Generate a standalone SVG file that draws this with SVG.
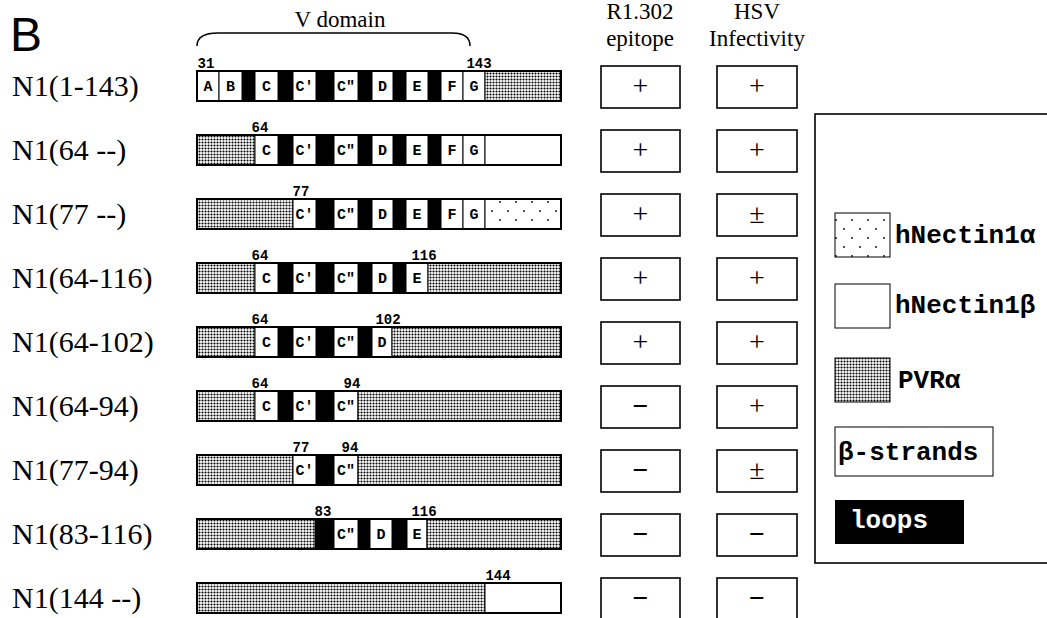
<svg xmlns="http://www.w3.org/2000/svg" width="1047" height="618" viewBox="0 0 1047 618">
<style>
.pvr{fill:url(#pvr);stroke:#000;stroke-width:1}
.wh{fill:#fff;stroke:#000;stroke-width:1}
.al{fill:url(#alpha);stroke:#000;stroke-width:1}
.lp{fill:#000}
.out{fill:none;stroke:#000;stroke-width:2}
.seg{font-family:"Liberation Mono","DejaVu Sans Mono",monospace;font-weight:bold;font-size:15px;text-anchor:middle}
.num{font-family:"Liberation Mono","DejaVu Sans Mono",monospace;font-weight:bold;font-size:14px;text-anchor:middle}
.lbl{font-family:"Liberation Serif",serif;font-size:30px}
.hdr{font-family:"Liberation Serif",serif;font-size:23px;text-anchor:middle}
.box{fill:#fff;stroke:#000;stroke-width:1.6}
.res{font-family:"Liberation Serif",serif;font-size:28px;text-anchor:middle}
.neg{font-weight:bold}
.leg{font-family:"Liberation Mono","DejaVu Sans Mono",monospace;font-weight:bold;font-size:26px}
</style>
<defs>
<pattern id="pvr" width="3" height="3" patternUnits="userSpaceOnUse">
<rect width="3" height="3" fill="#fff"/>
<circle cx="1.5" cy="1.5" r="1.05" fill="#000"/>
</pattern>
<pattern id="alpha" width="16" height="18" patternUnits="userSpaceOnUse">
<rect width="16" height="18" fill="#fff"/>
<circle cx="4" cy="4" r="0.9" fill="#000"/>
<circle cx="12" cy="13" r="0.9" fill="#000"/>
</pattern>
</defs>
<rect width="1047" height="618" fill="#fff"/>

<g id="title">
<text x="10" y="51" font-family="Liberation Sans, sans-serif" font-size="48">B</text>
<text class="hdr" x="340" y="27">V domain</text>
<path d="M197,46 C197,37 205,33 218,33 L452,33 C464,33 470,38 470,46" fill="none" stroke="#000" stroke-width="1.5"/>
<text class="hdr" x="640" y="19">R1.302</text>
<text class="hdr" x="640" y="46">epitope</text>
<text class="hdr" x="757" y="19">HSV</text>
<text class="hdr" x="757" y="46">Infectivity</text>
</g>

<g id="connectors"></g>

<!-- Row 1 -->
<g id="row-N1-1-143">
<text class="lbl" x="12" y="96">N1(1-143)</text>
<rect class="wh" x="197" y="71" width="22" height="30"/>
<rect class="wh" x="219" y="71" width="23" height="30"/>
<rect class="lp" x="242" y="71" width="13" height="30"/>
<rect class="wh" x="255" y="71" width="23" height="30"/>
<rect class="lp" x="278" y="71" width="15" height="30"/>
<rect class="wh" x="293" y="71" width="23" height="30"/>
<rect class="lp" x="316" y="71" width="18" height="30"/>
<rect class="wh" x="334" y="71" width="24" height="30"/>
<rect class="lp" x="358" y="71" width="14" height="30"/>
<rect class="wh" x="372" y="71" width="21" height="30"/>
<rect class="lp" x="393" y="71" width="13" height="30"/>
<rect class="wh" x="406" y="71" width="22" height="30"/>
<rect class="lp" x="428" y="71" width="13" height="30"/>
<rect class="wh" x="441" y="71" width="22" height="30"/>
<rect class="wh" x="463" y="71" width="22" height="30"/>
<rect class="pvr" x="485" y="71" width="76" height="30"/>
<rect class="out" x="197" y="71" width="364" height="30"/>
<text class="seg" x="208" y="91">A</text>
<text class="seg" x="230.5" y="91">B</text>
<text class="seg" x="266.5" y="91">C</text>
<text class="seg" x="304.5" y="91">C′</text>
<text class="seg" x="346" y="91">C″</text>
<text class="seg" x="382.5" y="91">D</text>
<text class="seg" x="417" y="91">E</text>
<text class="seg" x="452" y="91">F</text>
<text class="seg" x="474" y="91">G</text>
<text class="num" x="206" y="68">31</text>
<text class="num" x="479" y="68">143</text>
<rect class="box" x="601" y="66" width="79" height="42"/>
<text class="res" x="640.5" y="95">+</text>
<rect class="box" x="717" y="66" width="80" height="42"/>
<text class="res" x="757" y="95">+</text>
</g>

<!-- Row 2 -->
<g id="row-N1-64">
<text class="lbl" x="12" y="160">N1(64 --)</text>
<rect class="pvr" x="197" y="135" width="58" height="30"/>
<rect class="wh" x="255" y="135" width="23" height="30"/>
<rect class="lp" x="278" y="135" width="15" height="30"/>
<rect class="wh" x="293" y="135" width="23" height="30"/>
<rect class="lp" x="316" y="135" width="18" height="30"/>
<rect class="wh" x="334" y="135" width="24" height="30"/>
<rect class="lp" x="358" y="135" width="14" height="30"/>
<rect class="wh" x="372" y="135" width="21" height="30"/>
<rect class="lp" x="393" y="135" width="13" height="30"/>
<rect class="wh" x="406" y="135" width="22" height="30"/>
<rect class="lp" x="428" y="135" width="13" height="30"/>
<rect class="wh" x="441" y="135" width="22" height="30"/>
<rect class="wh" x="463" y="135" width="22" height="30"/>
<rect class="wh" x="485" y="135" width="76" height="30"/>
<rect class="out" x="197" y="135" width="364" height="30"/>
<text class="seg" x="266.5" y="155">C</text>
<text class="seg" x="304.5" y="155">C′</text>
<text class="seg" x="346" y="155">C″</text>
<text class="seg" x="382.5" y="155">D</text>
<text class="seg" x="417" y="155">E</text>
<text class="seg" x="452" y="155">F</text>
<text class="seg" x="474" y="155">G</text>
<text class="num" x="260" y="132">64</text>
<rect class="box" x="601" y="130" width="79" height="42"/>
<text class="res" x="640.5" y="159">+</text>
<rect class="box" x="717" y="130" width="80" height="42"/>
<text class="res" x="757" y="159">+</text>
</g>

<!-- Row 3 -->
<g id="row-N1-77">
<text class="lbl" x="12" y="224">N1(77 --)</text>
<rect class="pvr" x="197" y="199" width="96" height="30"/>
<rect class="wh" x="293" y="199" width="23" height="30"/>
<rect class="lp" x="316" y="199" width="18" height="30"/>
<rect class="wh" x="334" y="199" width="24" height="30"/>
<rect class="lp" x="358" y="199" width="14" height="30"/>
<rect class="wh" x="372" y="199" width="21" height="30"/>
<rect class="lp" x="393" y="199" width="13" height="30"/>
<rect class="wh" x="406" y="199" width="22" height="30"/>
<rect class="lp" x="428" y="199" width="13" height="30"/>
<rect class="wh" x="441" y="199" width="22" height="30"/>
<rect class="wh" x="463" y="199" width="22" height="30"/>
<rect class="al" x="485" y="199" width="76" height="30"/>
<rect class="out" x="197" y="199" width="364" height="30"/>
<text class="seg" x="304.5" y="219">C′</text>
<text class="seg" x="346" y="219">C″</text>
<text class="seg" x="382.5" y="219">D</text>
<text class="seg" x="417" y="219">E</text>
<text class="seg" x="452" y="219">F</text>
<text class="seg" x="474" y="219">G</text>
<text class="num" x="301" y="196">77</text>
<rect class="box" x="601" y="194" width="79" height="42"/>
<text class="res" x="640.5" y="223">+</text>
<rect class="box" x="717" y="194" width="80" height="42"/>
<text class="res" x="757" y="223">±</text>
</g>

<!-- Row 4 -->
<g id="row-N1-64-116">
<text class="lbl" x="12" y="288">N1(64-116)</text>
<rect class="pvr" x="197" y="263" width="58" height="30"/>
<rect class="wh" x="255" y="263" width="23" height="30"/>
<rect class="lp" x="278" y="263" width="15" height="30"/>
<rect class="wh" x="293" y="263" width="23" height="30"/>
<rect class="lp" x="316" y="263" width="18" height="30"/>
<rect class="wh" x="334" y="263" width="24" height="30"/>
<rect class="lp" x="358" y="263" width="14" height="30"/>
<rect class="wh" x="372" y="263" width="21" height="30"/>
<rect class="lp" x="393" y="263" width="13" height="30"/>
<rect class="wh" x="406" y="263" width="22" height="30"/>
<rect class="pvr" x="428" y="263" width="133" height="30"/>
<rect class="out" x="197" y="263" width="364" height="30"/>
<text class="seg" x="266.5" y="283">C</text>
<text class="seg" x="304.5" y="283">C′</text>
<text class="seg" x="346" y="283">C″</text>
<text class="seg" x="382.5" y="283">D</text>
<text class="seg" x="417" y="283">E</text>
<text class="num" x="260" y="260">64</text>
<text class="num" x="424" y="260">116</text>
<rect class="box" x="601" y="258" width="79" height="42"/>
<text class="res" x="640.5" y="287">+</text>
<rect class="box" x="717" y="258" width="80" height="42"/>
<text class="res" x="757" y="287">+</text>
</g>

<!-- Row 5 -->
<g id="row-N1-64-102">
<text class="lbl" x="12" y="352">N1(64-102)</text>
<rect class="pvr" x="197" y="327" width="58" height="30"/>
<rect class="wh" x="255" y="327" width="23" height="30"/>
<rect class="lp" x="278" y="327" width="15" height="30"/>
<rect class="wh" x="293" y="327" width="23" height="30"/>
<rect class="lp" x="316" y="327" width="18" height="30"/>
<rect class="wh" x="334" y="327" width="24" height="30"/>
<rect class="lp" x="358" y="327" width="14" height="30"/>
<rect class="wh" x="372" y="327" width="20" height="30"/>
<rect class="pvr" x="392" y="327" width="169" height="30"/>
<rect class="out" x="197" y="327" width="364" height="30"/>
<text class="seg" x="266.5" y="347">C</text>
<text class="seg" x="304.5" y="347">C′</text>
<text class="seg" x="346" y="347">C″</text>
<text class="seg" x="382" y="347">D</text>
<text class="num" x="260" y="324">64</text>
<text class="num" x="388" y="324">102</text>
<rect class="box" x="601" y="322" width="79" height="42"/>
<text class="res" x="640.5" y="351">+</text>
<rect class="box" x="717" y="322" width="80" height="42"/>
<text class="res" x="757" y="351">+</text>
</g>

<!-- Row 6 -->
<g id="row-N1-64-94">
<text class="lbl" x="12" y="416">N1(64-94)</text>
<rect class="pvr" x="197" y="391" width="58" height="30"/>
<rect class="wh" x="255" y="391" width="23" height="30"/>
<rect class="lp" x="278" y="391" width="15" height="30"/>
<rect class="wh" x="293" y="391" width="23" height="30"/>
<rect class="lp" x="316" y="391" width="18" height="30"/>
<rect class="wh" x="334" y="391" width="24" height="30"/>
<rect class="pvr" x="358" y="391" width="203" height="30"/>
<rect class="out" x="197" y="391" width="364" height="30"/>
<text class="seg" x="266.5" y="411">C</text>
<text class="seg" x="304.5" y="411">C′</text>
<text class="seg" x="346" y="411">C″</text>
<text class="num" x="260" y="388">64</text>
<text class="num" x="352" y="388">94</text>
<rect class="box" x="601" y="386" width="79" height="42"/>
<text class="res neg" x="640.5" y="415">−</text>
<rect class="box" x="717" y="386" width="80" height="42"/>
<text class="res" x="757" y="415">+</text>
</g>

<!-- Row 7 -->
<g id="row-N1-77-94">
<text class="lbl" x="12" y="480">N1(77-94)</text>
<rect class="pvr" x="197" y="455" width="96" height="30"/>
<rect class="wh" x="293" y="455" width="23" height="30"/>
<rect class="lp" x="316" y="455" width="18" height="30"/>
<rect class="wh" x="334" y="455" width="24" height="30"/>
<rect class="pvr" x="358" y="455" width="203" height="30"/>
<rect class="out" x="197" y="455" width="364" height="30"/>
<text class="seg" x="304.5" y="475">C′</text>
<text class="seg" x="346" y="475">C″</text>
<text class="num" x="301" y="452">77</text>
<text class="num" x="350" y="452">94</text>
<rect class="box" x="601" y="450" width="79" height="42"/>
<text class="res neg" x="640.5" y="479">−</text>
<rect class="box" x="717" y="450" width="80" height="42"/>
<text class="res" x="757" y="479">±</text>
</g>

<!-- Row 8 -->
<g id="row-N1-83-116">
<text class="lbl" x="12" y="544">N1(83-116)</text>
<rect class="pvr" x="197" y="519" width="118" height="30"/>
<rect class="lp" x="315" y="519" width="19" height="30"/>
<rect class="wh" x="334" y="519" width="24" height="30"/>
<rect class="lp" x="358" y="519" width="12" height="30"/>
<rect class="wh" x="370" y="519" width="22" height="30"/>
<rect class="lp" x="392" y="519" width="15" height="30"/>
<rect class="wh" x="407" y="519" width="20" height="30"/>
<rect class="pvr" x="427" y="519" width="134" height="30"/>
<rect class="out" x="197" y="519" width="364" height="30"/>
<text class="seg" x="346" y="539">C″</text>
<text class="seg" x="381" y="539">D</text>
<text class="seg" x="417" y="539">E</text>
<text class="num" x="323" y="516">83</text>
<text class="num" x="424" y="516">116</text>
<rect class="box" x="601" y="514" width="79" height="42"/>
<text class="res neg" x="640.5" y="543">−</text>
<rect class="box" x="717" y="514" width="80" height="42"/>
<text class="res neg" x="757" y="543">−</text>
</g>

<!-- Row 9 -->
<g id="row-N1-144">
<text class="lbl" x="12" y="608">N1(144 --)</text>
<rect class="pvr" x="197" y="583" width="288" height="30"/>
<rect class="wh" x="485" y="583" width="76" height="30"/>
<rect class="out" x="197" y="583" width="364" height="30"/>
<text class="num" x="498" y="580">144</text>
<rect class="box" x="601" y="578" width="79" height="44"/>
<text class="res neg" x="640.5" y="607">−</text>
<rect class="box" x="717" y="578" width="80" height="44"/>
<text class="res neg" x="757" y="607">−</text>
</g>

<!-- Legend -->
<g id="legend">
<rect x="815" y="114" width="260" height="449" fill="#fff" stroke="#000" stroke-width="1.6"/>
<rect class="al" x="835" y="213" width="55" height="44" stroke-width="1.5"/>
<text class="leg" x="895" y="243">hNectin1α</text>
<rect class="wh" x="835" y="284" width="55" height="44" stroke-width="1.5"/>
<text class="leg" x="895" y="313">hNectin1β</text>
<rect class="pvr" x="835" y="358" width="55" height="44" stroke-width="1.5"/>
<text class="leg" x="898" y="388">PVRα</text>
<rect class="wh" x="835" y="427" width="158" height="49" stroke-width="1.5"/>
<text class="leg" x="838" y="460">β-strands</text>
<rect x="835" y="500" width="129" height="44" fill="#000"/>
<text class="leg" x="850" y="528" fill="#fff">loops</text>
</g>
</svg>
